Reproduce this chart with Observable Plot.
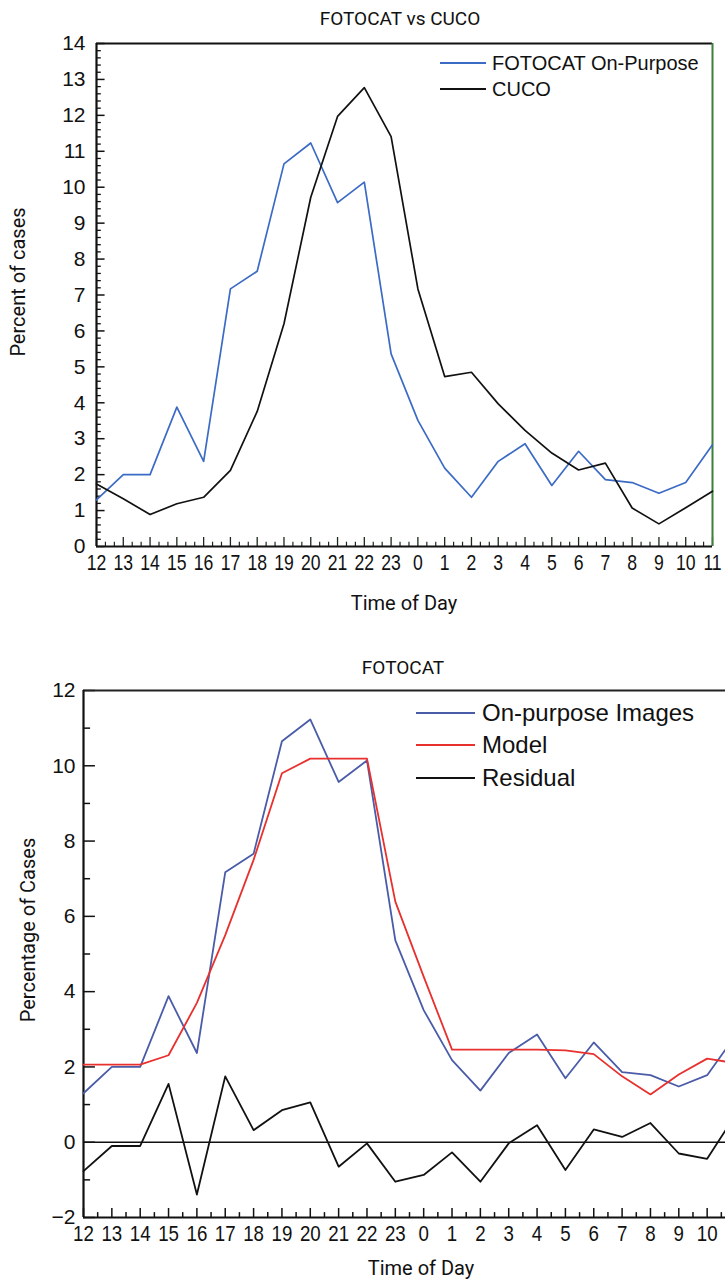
<!DOCTYPE html>
<html><head><meta charset="utf-8">
<script src="https://cdn.jsdelivr.net/npm/d3@7"></script>
<script src="https://cdn.jsdelivr.net/npm/@observablehq/plot@0.6"></script>
<style>
body{margin:0;background:#fff;overflow:hidden}
#wrap{position:relative;width:725px;height:1285px;overflow:hidden;background:#fff}
.abs{position:absolute;white-space:nowrap;color:#111;line-height:1}
.ttl{font-family:Roboto,"Open Sans",sans-serif;transform:translate(-50%,-50%)}
.rot{transform:translate(-50%,-50%) rotate(-90deg)}
.leg{position:absolute;font-family:"Liberation Sans",Arial,sans-serif;white-space:nowrap;color:#111;line-height:1;transform:translateY(-50%)}
.lline{position:absolute;height:0}
#wrap svg{position:absolute;left:0;max-width:none !important}
#wrap g[aria-label="x-axis tick label"] text{font-size:22px !important}
#wrap g[aria-label="y-axis tick label"] text{font-size:21px !important}
</style></head>
<body><div id="wrap"></div>
<script>
// ---- data ----
const hours = ["12","13","14","15","16","17","18","19","20","21","22","23","0","1","2","3","4","5","6","7","8","9","10","11"];
const fotocat = [1.30,2.00,2.00,3.88,2.37,7.17,7.66,10.65,11.23,9.57,10.14,5.36,3.51,2.18,1.37,2.37,2.86,1.70,2.65,1.86,1.78,1.48,1.78,2.83];
const cuco = [1.74,1.33,0.89,1.19,1.37,2.12,3.76,6.20,9.72,11.97,12.77,11.41,7.17,4.73,4.85,3.97,3.23,2.60,2.13,2.32,1.07,0.63,1.08,1.54];
const model = [2.06,2.06,2.06,2.31,3.70,5.50,7.50,9.80,10.19,10.19,10.19,6.39,4.40,2.46,2.46,2.46,2.46,2.44,2.34,1.75,1.27,1.80,2.22,2.10];
const residual = [-0.77,-0.10,-0.10,1.55,-1.39,1.75,0.32,0.85,1.06,-0.65,-0.03,-1.05,-0.87,-0.27,-1.05,-0.03,0.45,-0.74,0.34,0.14,0.51,-0.30,-0.44,0.73];

const idx = d3.range(hours.length);
const wrap = document.getElementById("wrap");

function condense(svg, s) {
  d3.select(svg).selectAll('g[aria-label="x-axis tick label"] text').each(function(){
    const t = this.getAttribute("transform") || "";
    this.setAttribute("transform", t + ` scale(${s},1)`);
  });
}
function addText(txt, x, y, cls, size) {
  const d = document.createElement("div");
  d.className = "abs " + cls;
  d.style.left = x + "px"; d.style.top = y + "px";
  if (size) d.style.fontSize = size + "px";
  d.textContent = txt;
  wrap.appendChild(d);
}
function addLegend(items, x1, x2, xt, y0, dy, size) {
  items.forEach(([label, color], k) => {
    const l = document.createElement("div");
    l.className = "lline";
    l.style.left = x1 + "px"; l.style.width = (x2 - x1) + "px";
    l.style.top = (y0 + k*dy - 1) + "px";
    l.style.borderTop = "2px solid " + color;
    wrap.appendChild(l);
    const t = document.createElement("div");
    t.className = "leg";
    t.style.left = xt + "px"; t.style.top = (y0 + k*dy) + "px";
    t.style.fontSize = size + "px";
    t.textContent = label;
    wrap.appendChild(t);
  });
}

// ---- chart 1: FOTOCAT vs CUCO ----
const minorX1 = d3.range(0, 23*3).filter(k => k % 3 !== 0).map(k => k/3);
const majorY1 = d3.range(0, 15);
const minorY1 = d3.range(0, 70).filter(k => k % 5 !== 0).map(k => k/5);
const c1 = Plot.plot({
  width: 725, height: 620, marginTop: 43, marginBottom: 74, marginLeft: 96, marginRight: 13,
  x: {domain: [0, 23]}, y: {domain: [0, 14]},
  style: {fontFamily: "Liberation Sans, Arial, sans-serif", fontSize: "20px", color: "#111", background: "transparent"},
  marks: [
    Plot.ruleX(idx, {x: d => d, y1: 0, y2: 0.25, stroke: "#1a2a1a", strokeWidth: 1.3}),
    Plot.ruleX(minorX1, {x: d => d, y1: 0, y2: 0.12, stroke: "#1a2a1a", strokeWidth: 1.2}),
    Plot.ruleY(majorY1, {y: d => d, x1: 0, x2: 0.32, stroke: "#111", strokeWidth: 1.5}),
    Plot.ruleY(minorY1, {y: d => d, x1: 0, x2: 0.18, stroke: "#111", strokeWidth: 1.3}),
    Plot.ruleY([14], {stroke: "#111", strokeWidth: 2}),
    Plot.ruleX([23], {stroke: "#3d7f3d", strokeWidth: 2}),
    Plot.ruleY([0], {stroke: "#111", strokeWidth: 2.2}),
    Plot.ruleX([0], {stroke: "#111", strokeWidth: 2.2}),
    Plot.line(idx, {x: i => i, y: i => fotocat[i], stroke: "#3b6bc5", strokeWidth: 1.7}),
    Plot.line(idx, {x: i => i, y: i => cuco[i], stroke: "#111", strokeWidth: 1.7}),
    Plot.axisX({ticks: idx, tickFormat: i => hours[i], tickSize: 0, tickPadding: 8, label: null}),
    Plot.axisY({ticks: majorY1, tickSize: 0, tickPadding: 11, label: null})
  ]
});
c1.style.top = "0px";
wrap.appendChild(c1);
condense(c1, 0.8);

addText("FOTOCAT vs CUCO", 400, 18, "ttl", 19);
addText("Percent of cases", 18, 282, "ttl rot", 20);
addText("Time of Day", 404, 603, "ttl", 20);
addLegend([["FOTOCAT On-Purpose", "#3b6bc5"], ["CUCO", "#111"]], 440, 486, 492, 63, 26, 20);

// ---- chart 2: FOTOCAT model ----
const minorX2 = d3.range(0, 23*2).filter(k => k % 2 !== 0).map(k => k/2);
const majorY2 = d3.range(-2, 13, 2);
const minorY2 = d3.range(-1, 12, 2);
const c2 = Plot.plot({
  width: 750, height: 645, marginTop: 50, marginBottom: 68, marginLeft: 83, marginRight: 15,
  x: {domain: [0, 23]}, y: {domain: [-2, 12]},
  style: {fontFamily: "Liberation Sans, Arial, sans-serif", fontSize: "20px", color: "#111", background: "transparent", maxWidth: "none"},
  marks: [
    Plot.ruleX(idx, {x: d => d, y1: -2, y2: -1.76, stroke: "#111", strokeWidth: 1.5}),
    Plot.ruleX(minorX2, {x: d => d, y1: -2, y2: -1.87, stroke: "#111", strokeWidth: 1.5}),
    Plot.ruleY(majorY2, {y: d => d, x1: 0, x2: 0.42, stroke: "#111", strokeWidth: 1.5}),
    Plot.ruleY(minorY2, {y: d => d, x1: 0, x2: 0.25, stroke: "#111", strokeWidth: 1.5}),
    Plot.ruleY([12], {stroke: "#222", strokeWidth: 2.2}),
    Plot.ruleY([-2], {stroke: "#111", strokeWidth: 2.2}),
    Plot.ruleX([0], {stroke: "#111", strokeWidth: 2.2}),
    Plot.ruleX([23], {stroke: "#111", strokeWidth: 2.2}),
    Plot.ruleY([0], {stroke: "#111", strokeWidth: 1.6}),
    Plot.line(idx, {x: i => i, y: i => residual[i], stroke: "#111", strokeWidth: 1.8}),
    Plot.line(idx, {x: i => i, y: i => fotocat[i], stroke: "#4a5ca8", strokeWidth: 1.8}),
    Plot.line(idx, {x: i => i, y: i => model[i], stroke: "#e8302e", strokeWidth: 1.8}),
    Plot.axisX({ticks: idx, tickFormat: i => hours[i], tickSize: 0, tickPadding: 8, label: null}),
    Plot.axisY({ticks: majorY2, tickSize: 0, tickPadding: 8, label: null})
  ]
});
c2.style.top = "640px";
c2.style.maxWidth = "none";
c2.setAttribute("width", 750);
wrap.appendChild(c2);
condense(c2, 0.85);

addText("FOTOCAT", 403, 667, "ttl", 19);
addText("Percentage of Cases", 28, 930, "ttl rot", 20);
addText("Time of Day", 421, 1268, "ttl", 20);
addLegend([["On-purpose Images", "#4a5ca8"], ["Model", "#e8302e"], ["Residual", "#111"]], 416, 475, 482, 713, 32.3, 24);
</script></body></html>
